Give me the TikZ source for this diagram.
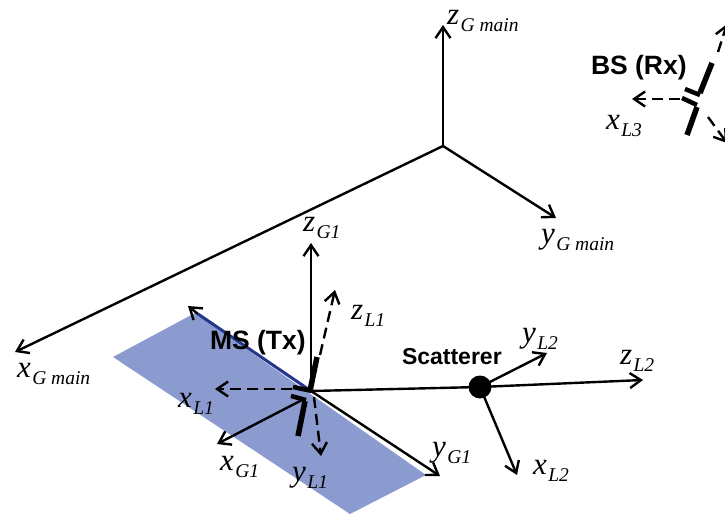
\documentclass[tikz,border=0pt]{standalone}
\usepackage{fontspec}
\setmainfont{Liberation Serif}
\newfontfamily\lsans{Liberation Sans}
\usetikzlibrary{arrows.meta}
\definecolor{planeblue}{RGB}{139,155,208}
\definecolor{edgeblue}{RGB}{35,55,140}
\newcommand{\axlab}[2]{{\fontsize{31}{31}\selectfont\itshape #1}\kern1.5pt\raisebox{-7.5pt}{\fontsize{19.5}{19.5}\selectfont\itshape #2}}
\tikzset{
 x=1pt,y=-1pt,
 tip/.style={-{Straight Barb[length=11pt,width=15pt,line width=2.4pt]}},
 ax/.style={line width=2.4pt,tip,draw=black},
 dax/.style={line width=2.4pt,tip,draw=black,dash pattern=on 11pt off 6pt},
 thick bar/.style={line width=5.5pt,draw=black},
 bar/.style={line width=4.5pt,draw=black},
 lab/.style={anchor=base west,inner sep=0pt,outer sep=0pt},
 title/.style={anchor=base west,inner sep=0pt,outer sep=0pt,font=\lsans\bfseries},
}
\begin{document}
\begin{tikzpicture}
\useasboundingbox (0,0) rectangle (725,514);
\coordinate (O) at (443,146);
\coordinate (Oz) at (443,25);
\coordinate (Oy) at (556,218);
\coordinate (Ox) at (15,352);
\coordinate (M) at (311,391);
\coordinate (S) at (480,387);
% plane
\fill[planeblue] (195,313) -- (113,357) -- (350,514) -- (426,475) -- cycle;
% main axes
\draw[ax] (O) -- (Oz);
\draw[ax] (O) -- (Oy);
\draw[ax] (O) -- (Ox);
% G1 axes
\coordinate (Gz) at (311,243);
\coordinate (Gy) at (440,476);
\coordinate (Gb0) at (198,314);
\coordinate (Gb) at (188,306);
\coordinate (Gx0) at (302,400);
\coordinate (Gx) at (217,444);
\draw[ax] (M) -- (Gz);
\draw[line width=3pt,draw=edgeblue] (M) -- (Gb0);
\draw[ax] (Gb0) -- (Gb);
\draw[ax] (M) -- (Gy);
\draw[ax] (Gx0) -- (Gx);
% L1 dashed
\coordinate (L1x0) at (292,389);
\coordinate (L1x) at (215,389);
\coordinate (L1z0) at (320,355);
\coordinate (L1z) at (335,290);
\coordinate (L1y0) at (314,397);
\coordinate (L1y) at (321,456);
\draw[dax] (L1x0) -- (L1x);
\draw[dax] (L1z0) -- (L1z);
\draw[dax] (L1y0) -- (L1y);
% MS antenna
\coordinate (A1) at (317,357);
\coordinate (A2) at (310,391);
\coordinate (A3) at (305,401);
\coordinate (A4) at (298,436);
\coordinate (A5) at (293,387);
\coordinate (A6) at (312,391);
\coordinate (A7) at (291,396);
\coordinate (A8) at (306,400);
\draw[thick bar] (A1) -- (A2);
\draw[thick bar] (A3) -- (A4);
\draw[bar] (A5) -- (A6);
\draw[bar] (A7) -- (A8);
% scatterer
\coordinate (Sz) at (643,380);
\coordinate (Sy) at (547,353);
\coordinate (Sx) at (517,475);
\draw[line width=2.4pt] (M) -- (S);
\draw[ax] (S) -- (Sz);
\draw[ax] (S) -- (Sy);
\draw[ax] (S) -- (Sx);
\node[circle,fill=black,minimum size=23pt,inner sep=0pt] (scat) at (S) {};
% BS
\coordinate (B1) at (712,63);
\coordinate (B2) at (700,93);
\coordinate (B3) at (697,107);
\coordinate (B4) at (687,135);
\coordinate (B5) at (685,89);
\coordinate (B6) at (700,95);
\coordinate (B7) at (682,98);
\coordinate (B8) at (697,105);
\coordinate (L3x0) at (680,99);
\coordinate (L3x) at (632,99);
\coordinate (L3z0) at (718,52);
\coordinate (L3z) at (727,24);
\coordinate (L3y0) at (708,117);
\coordinate (L3y) at (727,143);
\draw[thick bar] (B1) -- (B2);
\draw[thick bar] (B3) -- (B4);
\draw[bar] (B5) -- (B6);
\draw[bar] (B7) -- (B8);
\draw[dax] (L3x0) -- (L3x);
\draw[dax] (L3z0) -- (L3z);
\draw[dax] (L3y0) -- (L3y);
% labels
\node[lab] (lzm) at (447,24) {\axlab{z}{G main}};
\node[lab] (lym) at (541,243) {\axlab{y}{G main}};
\node[lab] (lxm) at (17,377) {\axlab{x}{G main}};
\node[lab] (lzg) at (303,231) {\axlab{z}{G1}};
\node[lab] (lyg) at (432,456) {\axlab{y}{G1}};
\node[lab] (lxg) at (220,470) {\axlab{x}{G1}};
\node[lab] (lzl) at (351,319) {\axlab{z}{L1}};
\node[lab] (lxl) at (178,407) {\axlab{x}{L1}};
\node[lab] (lyl) at (292,481) {\axlab{y}{L1}};
\node[lab] (ly2) at (522,342) {\axlab{y}{L2}};
\node[lab] (lz2) at (620,364) {\axlab{z}{L2}};
\node[lab] (lx2) at (533,474) {\axlab{x}{L2}};
\node[lab] (lx3) at (606,129) {\axlab{x}{L3}};
\node[title,font=\lsans\bfseries\fontsize{26.5}{26.5}\selectfont] (ms) at (210,349) {MS (Tx)};
\node[title,font=\lsans\bfseries\fontsize{26.5}{26.5}\selectfont] (bs) at (591,74) {BS (Rx)};
\node[title,font=\lsans\bfseries\fontsize{23}{23}\selectfont] (sc) at (402,364) {Scatterer};
\end{tikzpicture}
\end{document}
